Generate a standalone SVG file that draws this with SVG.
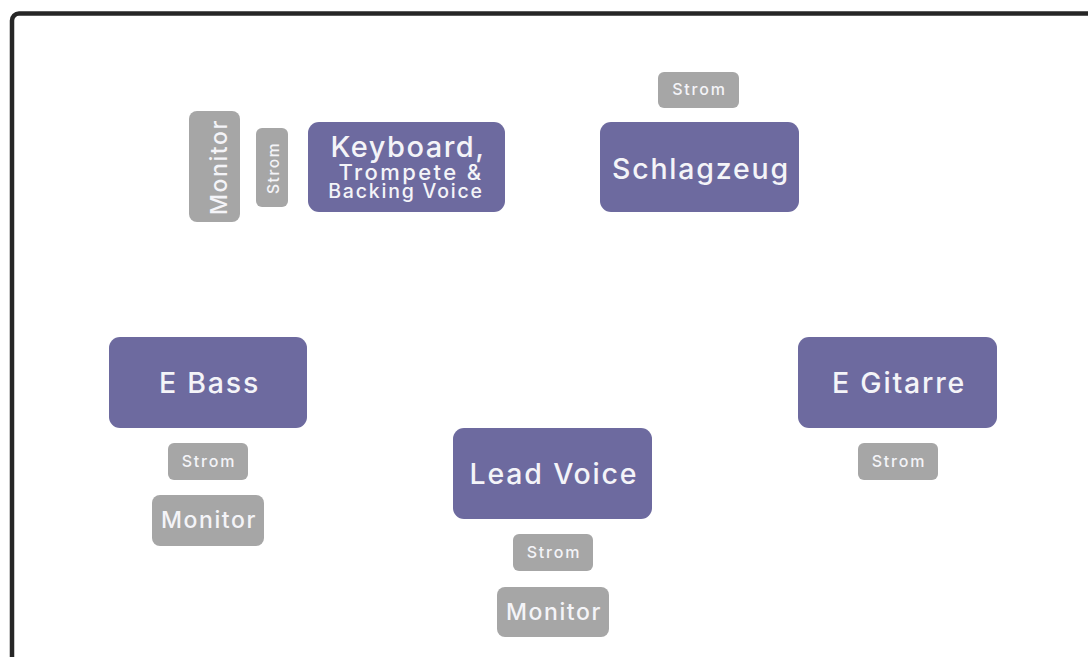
<svg xmlns="http://www.w3.org/2000/svg" width="1088" height="657" viewBox="0 0 1088 657">
<style>
.inst{fill:#6d6a9f;}
.acc{fill:#a6a6a6;}
text{font-family:Inter,"Open Sans","DejaVu Sans",sans-serif;fill:#f4f4f8;text-anchor:middle;font-weight:500;}
.big{font-size:28.5px;letter-spacing:1.8px;}
.mon{font-size:23px;letter-spacing:1.6px;}
.str{font-size:16px;letter-spacing:1.8px;}
</style>
<rect width="1088" height="657" fill="#ffffff"/>
<rect x="12" y="13.5" width="1100" height="680" rx="7" fill="none" stroke="#262626" stroke-width="4.5"/>
<g id="connectors"/>
<g id="monitor-keys">
<rect class="acc" x="189" y="111" width="51" height="111" rx="8"/>
<text class="mon" transform="translate(227 167) rotate(-90)">Monitor</text>
</g>
<g id="strom-keys">
<rect class="acc" x="256" y="128" width="32" height="79" rx="6"/>
<text class="str" style="font-size:15.5px;letter-spacing:1.6px" transform="translate(278.5 168) rotate(-90)">Strom</text>
</g>
<g id="keyboard">
<rect class="inst" x="308" y="122" width="197" height="90" rx="11"/>
<text x="408" y="157" style="font-size:29px;letter-spacing:1.5px">Keyboard,</text>
<text x="411" y="180" style="font-size:22px;letter-spacing:2.4px">Trompete &amp;</text>
<text x="406" y="197.5" style="font-size:19.5px;letter-spacing:1.8px">Backing Voice</text>
</g>
<g id="strom-drums">
<rect class="acc" x="658" y="72" width="81" height="36" rx="6"/>
<text class="str" x="699.5" y="94.5">Strom</text>
</g>
<g id="schlagzeug">
<rect class="inst" x="600" y="122" width="199" height="90" rx="11"/>
<text class="big" x="701" y="179">Schlagzeug</text>
</g>
<g id="ebass">
<rect class="inst" x="109" y="337" width="198" height="91" rx="11"/>
<text class="big" x="209.5" y="393">E Bass</text>
</g>
<g id="strom-bass">
<rect class="acc" x="168" y="443" width="80" height="37" rx="6"/>
<text class="str" x="209" y="466.5">Strom</text>
</g>
<g id="monitor-bass">
<rect class="acc" x="152" y="495" width="112" height="51" rx="8"/>
<text class="mon" x="209" y="527.5">Monitor</text>
</g>
<g id="egitarre">
<rect class="inst" x="798" y="337" width="199" height="91" rx="11"/>
<text class="big" x="899" y="393">E Gitarre</text>
</g>
<g id="strom-gitarre">
<rect class="acc" x="858" y="443" width="80" height="37" rx="6"/>
<text class="str" x="899" y="466.5">Strom</text>
</g>
<g id="leadvoice">
<rect class="inst" x="453" y="428" width="199" height="91" rx="11"/>
<text class="big" x="554" y="484">Lead Voice</text>
</g>
<g id="strom-lead">
<rect class="acc" x="513" y="534" width="80" height="37" rx="6"/>
<text class="str" x="554" y="557.5">Strom</text>
</g>
<g id="monitor-lead">
<rect class="acc" x="497" y="587" width="112" height="50" rx="8"/>
<text class="mon" x="554" y="619.5">Monitor</text>
</g>
</svg>
